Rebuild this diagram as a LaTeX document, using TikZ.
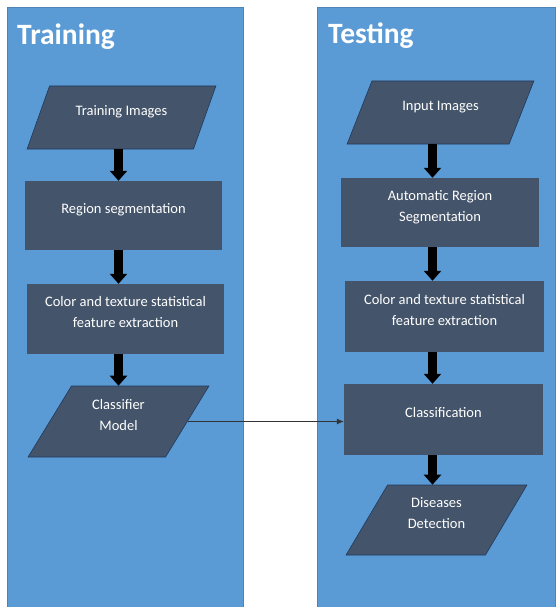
\documentclass[tikz,border=0pt]{standalone}
\usepackage{fontspec}
\setmainfont{Carlito}
\usetikzlibrary{arrows.meta,shapes.geometric,positioning}
\definecolor{panelblue}{HTML}{5B9BD5}
\definecolor{boxgrey}{HTML}{44546A}
\definecolor{edgeblue}{HTML}{1F3A5F}
\tikzset{
panel/.style={fill=panelblue, draw=panelblue!85!black, line width=0.8pt},
paneltitle/.style={anchor=base west, text=white, inner sep=0pt, font=\fontsize{29.5}{34}\selectfont\bfseries},
procbox/.style={rectangle, fill=boxgrey, text=white, align=center, inner sep=2pt, text depth=14pt, font=\fontsize{14.5}{21}\selectfont},
iobox/.style={trapezium, trapezium left angle=62, trapezium right angle=118, trapezium stretches=true, fill=boxgrey, draw=edgeblue, line width=0.6pt, text=white, align=center, inner sep=2pt, text depth=14pt, font=\fontsize{14.5}{21}\selectfont},
bigarrow/.style={line width=9pt, -{Triangle[width=17pt,length=10pt]}},
link/.style={line width=0.8pt, draw=black!80, -{Latex[length=7pt,width=6pt]}}
}
\begin{document}
\begin{tikzpicture}[x=1pt,y=-1pt]
\useasboundingbox (0,0) rectangle (555,607);
\fill[white] (0,0) rectangle (555,607);
\draw[panel] (7,7) rectangle (243,607);
\draw[panel] (317,7) rectangle (555,607);
\node[paneltitle] (traintitle) at (17,45) {Training};
\node[paneltitle] (testtitle) at (328,44) {Testing};
\coordinate (lcol) at (118.5,0);
\coordinate (rcol) at (432.5,0);
\node[iobox, minimum width=189pt, minimum height=63pt] (timg) at (121.5,117.5) {Training Images};
\node[procbox, minimum width=197pt, minimum height=69pt] (rseg) at (123.5,215.5) {Region segmentation};
\node[procbox, minimum width=197pt, minimum height=70pt] (fext) at (125.5,319) {Color and texture statistical\\feature extraction};
\node[iobox, minimum width=181pt, minimum height=71pt] (cmod) at (118.5,421.5) {Classifier\\Model};
\node[iobox, minimum width=187pt, minimum height=63pt] (iimg) at (440.5,112.5) {Input Images};
\node[procbox, minimum width=198pt, minimum height=69pt] (aseg) at (440,212.5) {Automatic Region\\Segmentation};
\node[procbox, minimum width=199pt, minimum height=71pt] (fext2) at (444.5,316.5) {Color and texture statistical\\feature extraction};
\node[procbox, minimum width=199pt, minimum height=71pt] (clsf) at (443.5,419.5) {Classification};
\node[iobox, minimum width=181pt, minimum height=70pt] (ddet) at (436.5,520) {Diseases\\Detection};
\draw[bigarrow] (timg.south -| lcol) -- (rseg.north -| lcol);
\draw[bigarrow] (rseg.south -| lcol) -- (fext.north -| lcol);
\draw[bigarrow] (fext.south -| lcol) -- (cmod.north -| lcol);
\draw[bigarrow] (iimg.south -| rcol) -- (aseg.north -| rcol);
\draw[bigarrow] (aseg.south -| rcol) -- (fext2.north -| rcol);
\draw[bigarrow] (fext2.south -| rcol) -- (clsf.north -| rcol);
\draw[bigarrow] (clsf.south -| rcol) -- (ddet.north -| rcol);
\draw[link] (cmod.east) -- (cmod.east -| clsf.west);
\end{tikzpicture}
\end{document}
